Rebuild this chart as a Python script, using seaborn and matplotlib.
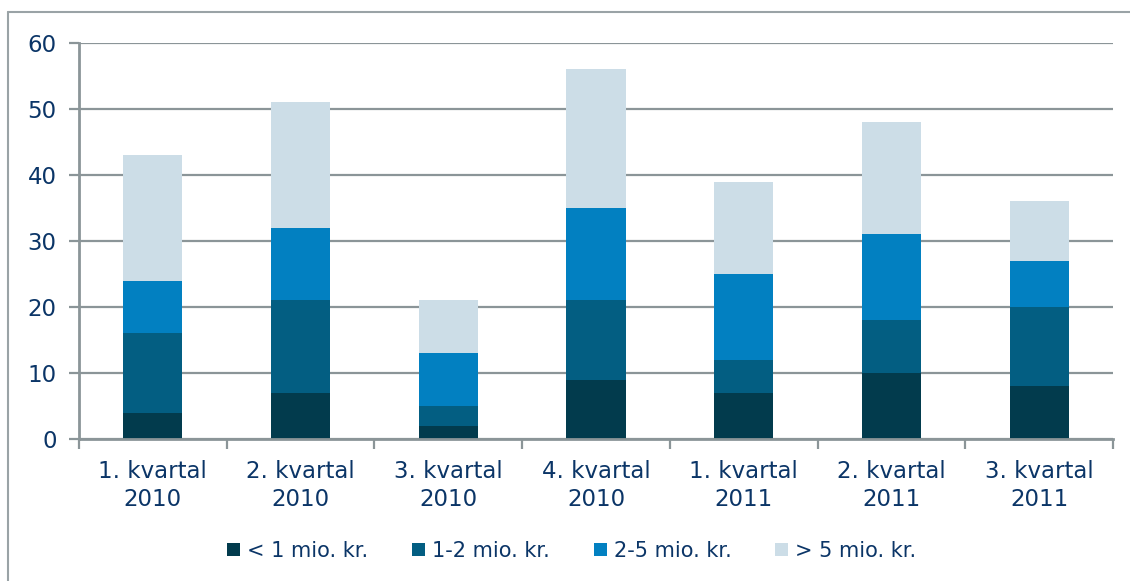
import matplotlib
matplotlib.use("Agg")
import matplotlib.pyplot as plt
import seaborn as sns
import numpy as np
import pandas as pd
from matplotlib.patches import Patch
from matplotlib.lines import Line2D

categories = ["1. kvartal\n2010", "2. kvartal\n2010", "3. kvartal\n2010", "4. kvartal\n2010",
              "1. kvartal\n2011", "2. kvartal\n2011", "3. kvartal\n2011"]
series_names = ["< 1 mio. kr.", "1-2 mio. kr.", "2-5 mio. kr.", "> 5 mio. kr."]
under_1 = [4, 7, 2, 9, 7, 10, 8]
mio_1_2 = [12, 14, 3, 12, 5, 8, 12]
mio_2_5 = [8, 11, 8, 14, 13, 13, 7]
over_5 = [19, 19, 8, 21, 14, 17, 9]
colors = ["#023b4d", "#035e82", "#0280c1", "#ccdde7"]
yticks = [0, 10, 20, 30, 40, 50, 60]

sns.set_theme(style="white")
plt.rcParams['font.family'] = ['DejaVu Sans']
text_color = "#0b3567"
grid_color = "#8b9598"

fig = plt.figure(figsize=(11.30, 5.81), dpi=100)
ax = fig.add_axes([79/1130, 1 - 439/581, (1113-79)/1130, (439-43)/581])

series = [under_1, mio_1_2, mio_2_5, over_5]
cums = np.cumsum(np.array(series), axis=0)
# draw from top total down so that lower segments overlay
for i in range(len(series) - 1, -1, -1):
    df = pd.DataFrame({"cat": categories, "val": cums[i]})
    sns.barplot(data=df, x="cat", y="val", color=colors[i], width=0.4,
                saturation=1, linewidth=0, ax=ax, zorder=3)

ax.set_ylim(0, 60)
ax.set_xlim(-0.5, len(categories) - 0.5)
ax.set_yticks(yticks)
ax.yaxis.grid(True, color=grid_color, linewidth=1.6, zorder=0)
ax.set_axisbelow(True)
ax.set_xlabel("")
ax.set_ylabel("")

for s in ["top", "right"]:
    ax.spines[s].set_visible(False)
for s in ["left", "bottom"]:
    ax.spines[s].set_color(grid_color)
    ax.spines[s].set_linewidth(2)
    ax.spines[s].set_zorder(4)

ax.tick_params(axis="y", which="both", left=True, length=7, width=1.6, color=grid_color,
               labelsize=16.5, labelcolor=text_color, pad=9)
ax.set_xticks(np.arange(len(categories)))
ax.set_xticklabels(categories)
ax.tick_params(axis="x", which="major", bottom=False, labelsize=16.5, labelcolor=text_color, pad=9)
ax.set_xticks(np.arange(len(categories) + 1) - 0.5, minor=True)
ax.tick_params(axis="x", which="minor", bottom=True, length=7, width=1.6, color=grid_color)
for lbl in ax.get_xticklabels():
    lbl.set_linespacing(1.3)

handles = [Patch(facecolor=c, edgecolor="none", label=n) for c, n in zip(colors, series_names)]
leg = fig.legend(handles=handles, loc="center", bbox_to_anchor=(572/1130, 1 - 551/581), ncol=4,
                 frameon=False, fontsize=15, labelcolor=text_color,
                 handlelength=0.62, handleheight=0.62, handletextpad=0.34, columnspacing=2.1)

# outer frame (left and top borders)
fig.add_artist(Line2D([8/1130, 8/1130], [0, 1 - 12/581], transform=fig.transFigure,
                      color="#9aa3a6", linewidth=1.5))
fig.add_artist(Line2D([8/1130, 1], [1 - 12/581, 1 - 12/581], transform=fig.transFigure,
                      color="#9aa3a6", linewidth=1.5))

fig.savefig("out.png", dpi=100)
